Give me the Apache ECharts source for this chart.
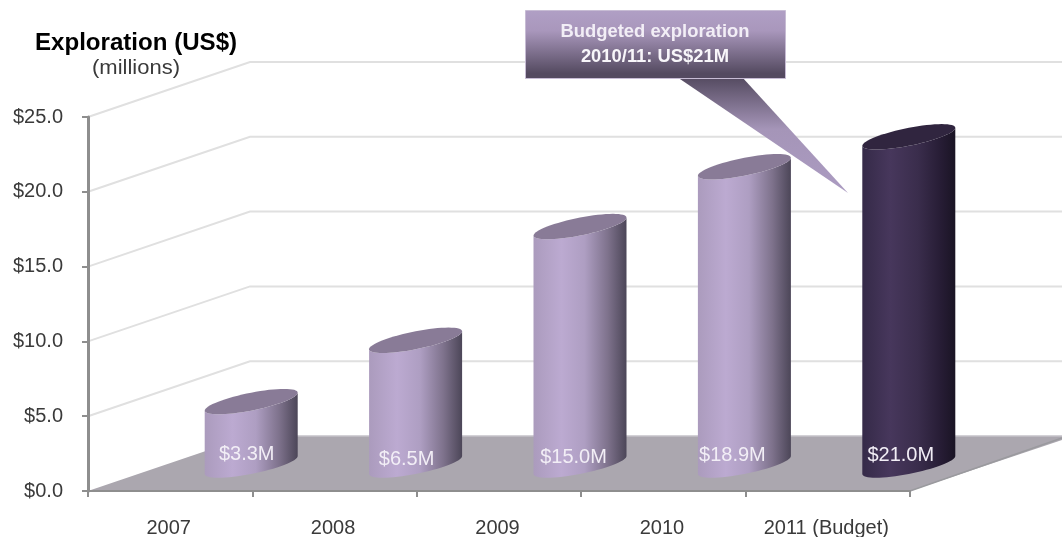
<!DOCTYPE html>
<html>
<head>
<meta charset="utf-8">
<style>html,body{margin:0;padding:0;background:#fff}#c{width:1062px;height:537px}</style>
<script src="https://cdn.jsdelivr.net/npm/echarts@6/dist/echarts.min.js"></script>
</head>
<body>
<div id="c"></div>
<script>
const categories = ['2007', '2008', '2009', '2010', '2011 (Budget)'];
const labelValues = [3.3, 6.5, 15.0, 18.9, 21.0];
const barHeights = [3.3, 7.4, 15.0, 19.0, 21.0];
const yTicks = [0, 5, 10, 15, 20, 25];
const budgetIndex = 4;

const DEPTH_X = 162, DEPTH_Y = 55;
const BAR_HALF = 46.5, TILT = 9, MINOR = 9;
const BAR_LIFT = 40, BASE_LIFT = 26;
const LABEL_DX = [-4.5, -9, -6.5, -12, -8];
const LABEL_DY = [-11, -6, -8, -10, -10];

function grad(x2, y2, stops) {
  return new echarts.graphic.LinearGradient(0, 0, x2, y2, stops.map(function (s) { return { offset: s[0], color: s[1] }; }));
}
const lightSide = [[0,'#ab9bbd'],[0.3,'#bcaad1'],[0.55,'#ae9ec2'],[0.8,'#7e728c'],[1,'#4c4658']];
const darkSide = [[0,'#352a48'],[0.3,'#47375c'],[0.6,'#3a2d4c'],[0.85,'#261c34'],[1,'#1a1424']];

function ell(cx, cy, t) {
  return [cx + BAR_HALF * Math.cos(t), cy - TILT * Math.cos(t) + MINOR * Math.sin(t)];
}
function arc(cx, cy, from, to, n) {
  const out = [];
  for (let i = 0; i <= n; i++) out.push(ell(cx, cy, from + (to - from) * i / n));
  return out;
}

function renderBack(params, api) {
  const v = api.value(0);
  const cs = params.coordSys;
  const y = api.coord([0, v])[1];
  const x0 = cs.x;
  const w = api.getWidth();
  const kids = [];
  if (v === 0) {
    kids.push({ type: 'polygon', shape: { points: [[x0, y], [x0 + DEPTH_X, y - DEPTH_Y], [w + 12, y - DEPTH_Y], [x0 + cs.width, y]] },
      style: { fill: '#aba7af' } });
    kids.push({ type: 'polyline', shape: { points: [[x0 + DEPTH_X, y - DEPTH_Y], [w, y - DEPTH_Y]] },
      style: { fill: 'none', stroke: '#c4c2c8', lineWidth: 1.5 } });
    kids.push({ type: 'polyline', shape: { points: [[x0 + cs.width, y], [w, y - DEPTH_Y + 2]] },
      style: { fill: 'none', stroke: '#9a9a9e', lineWidth: 1.5 } });
  } else {
    kids.push({ type: 'polyline', shape: { points: [[x0, y], [x0 + DEPTH_X, y - DEPTH_Y], [w, y - DEPTH_Y]] },
      style: { fill: 'none', stroke: '#e0e0e0', lineWidth: 2 } });
  }
  return { type: 'group', children: kids };
}

function renderBar(params, api) {
  const i = api.value(0);
  const top = api.coord([i, api.value(1)]);
  const base = api.coord([i, 0]);
  const cx = top[0] + DEPTH_X / 2;
  const topY = top[1] - BAR_LIFT;
  const baseY = base[1] - BASE_LIFT;
  const dark = i === budgetIndex;
  // front of the cap (left to right) then front of the base (right to left)
  const body = arc(cx, topY, Math.PI, 0, 32).concat(arc(cx, baseY, 0, Math.PI, 32));
  const cap = arc(cx, topY, 0, 2 * Math.PI, 64);
  return {
    type: 'group',
    children: [
      { type: 'polygon', shape: { points: body },
        style: { fill: grad(1, 0, dark ? darkSide : lightSide) } },
      { type: 'polygon', shape: { points: cap },
        style: { fill: dark ? '#30253f' : '#897b97' } },
      { type: 'text', x: cx + LABEL_DX[i], y: baseY + LABEL_DY[i],
        style: { text: '$' + labelValues[i].toFixed(1) + 'M', fill: '#f2eef6',
          font: '20px "Liberation Sans", Arial, sans-serif', align: 'center', verticalAlign: 'middle' } }
    ]
  };
}

const chart = echarts.init(document.getElementById('c'), null, { renderer: 'canvas' });
chart.setOption({
  animation: false,
  backgroundColor: '#ffffff',
  textStyle: { fontFamily: '"Liberation Sans", Arial, sans-serif' },
  grid: { left: 88, right: 152, top: 117, bottom: 46, containLabel: false, outerBoundsMode: 'none' },
  xAxis: {
    type: 'category', data: categories, boundaryGap: true, z: 5,
    axisLine: { show: true, lineStyle: { color: '#8e8e8e', width: 2 } },
    axisTick: { show: true, alignWithLabel: false, length: 6, lineStyle: { color: '#8e8e8e', width: 2 } },
    axisLabel: { color: '#3a3a3a', fontSize: 20, margin: 27, interval: 0, padding: [0, 3, 0, 0] },
    splitLine: { show: false }
  },
  yAxis: {
    type: 'value', min: 0, max: 25, interval: 5, z: 5,
    axisLine: { show: true, lineStyle: { color: '#8e8e8e', width: 3 } },
    axisTick: { show: true, length: 6, lineStyle: { color: '#8e8e8e', width: 2 } },
    axisLabel: { color: '#3a3a3a', fontSize: 20, margin: 25, padding: [3, 0, 0, 0], formatter: function (v) { return '$' + v.toFixed(1); } },
    splitLine: { show: false }
  },
  series: [
    { type: 'custom', name: 'back', z: 1, silent: true, renderItem: renderBack,
      encode: { x: 1, y: 0 }, data: yTicks.map(function (v) { return [v]; }) },
    { type: 'custom', name: 'Exploration (US$)', z: 3, silent: true, renderItem: renderBar,
      encode: { x: 0, y: 1 }, data: barHeights.map(function (v, i) { return [i, v]; }) }
  ],
  graphic: [
    { type: 'text', z: 20, x: 136, y: 44, scaleX: 1.025, style: { text: 'Exploration (US$)', fill: '#000000',
        font: 'bold 23.5px "Liberation Sans", Arial, sans-serif', align: 'center', verticalAlign: 'middle' } },
    { type: 'text', z: 20, x: 136, y: 68, scaleX: 1.1, style: { text: '(millions)', fill: '#3a3a3a',
        font: '20px "Liberation Sans", Arial, sans-serif', align: 'center', verticalAlign: 'middle' } },
    { type: 'polygon', z: 20, shape: { points: [[677, 77], [742, 77], [848, 193]] },
      style: { fill: grad(0, 1, [[0,'#544a60'],[0.45,'#a595b8'],[1,'#ab9bc1']]) } },
    { type: 'rect', z: 21, shape: { x: 525.5, y: 10.5, width: 260, height: 68 },
      style: { fill: grad(0, 1, [[0,'#b09fc5'],[0.3,'#a997bc'],[0.92,'#544a60'],[1,'#544a60']]), stroke: '#c7bcd4', lineWidth: 1 } },
    { type: 'text', z: 22, x: 655, y: 32, style: { text: 'Budgeted exploration', fill: '#f2eef6',
        font: 'bold 18.4px "Liberation Sans", Arial, sans-serif', align: 'center', verticalAlign: 'middle' } },
    { type: 'text', z: 22, x: 655, y: 57, style: { text: '2010/11: US$21M', fill: '#f8f6fa',
        font: 'bold 18.4px "Liberation Sans", Arial, sans-serif', align: 'center', verticalAlign: 'middle' } }
  ]
});
</script>
</body>
</html>
